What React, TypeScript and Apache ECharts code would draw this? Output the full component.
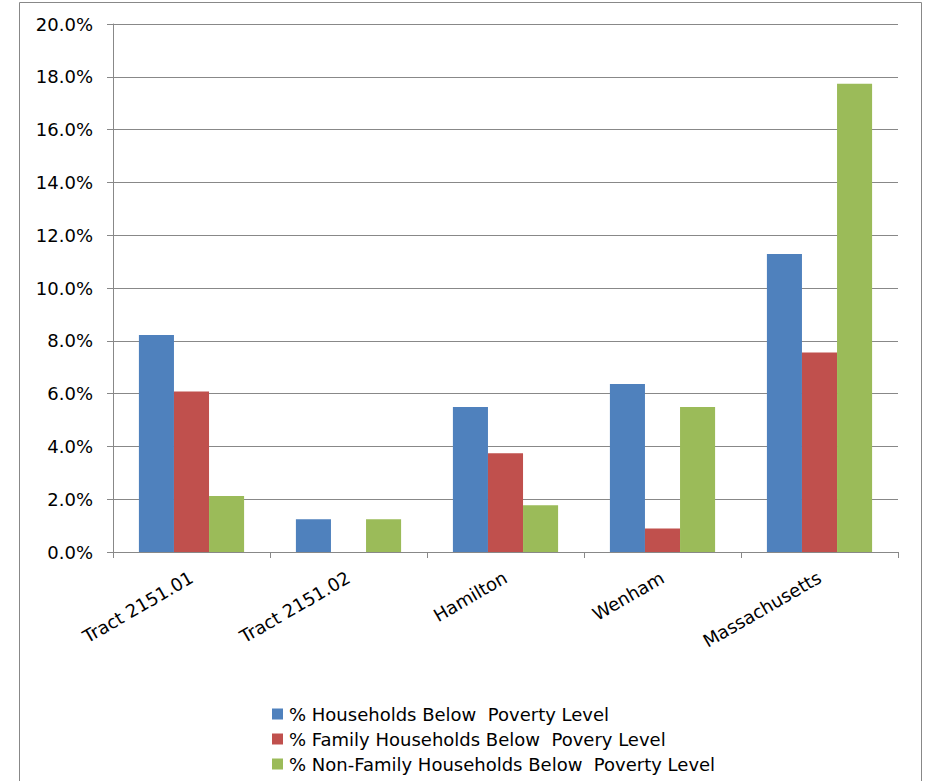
import React, { useEffect, useRef } from "react";
import * as echarts from "echarts";

const categories = ["Tract 2151.01", "Tract 2151.02", "Hamilton", "Wenham", "Massachusetts"];
const householdsBelow = [8.22, 1.24, 5.49, 6.36, 11.29];
const familyBelow = [6.08, 0, 3.74, 0.89, 7.56];
const nonFamilyBelow = [2.12, 1.24, 1.77, 5.49, 17.74];
const seriesNames = [
  "% Households Below  Poverty Level",
  "% Family Households Below  Povery Level",
  "% Non-Family Households Below  Poverty Level",
];
const colors = ["#4F81BD", "#C0504D", "#9BBB59"];

export default function App() {
  const ref = useRef<HTMLDivElement>(null);
  useEffect(() => {
    if (!ref.current) return;
    const chart = echarts.init(ref.current, null, { renderer: "svg" });
    const gray = "#888888";
    const font = "DejaVu Sans";
    const mk = (name: string, data: number[], color: string) => ({
      name,
      type: "bar",
      data,
      barGap: "0%",
      barCategoryGap: "33%",
      itemStyle: { color },
    });
    chart.setOption({
      animation: false,
      backgroundColor: "#ffffff",
      color: colors,
      graphic: [
        {
          type: "rect",
          shape: { x: 19.5, y: 2.5, width: 902, height: 820 },
          style: { fill: "none", stroke: gray, lineWidth: 1 },
          silent: true,
        },
      ],
      grid: { left: 113, right: 28, top: 24, bottom: 229, containLabel: false },
      legend: {
        orient: "vertical",
        left: 272,
        top: 705,
        padding: 0,
        icon: "rect",
        itemWidth: 11,
        itemHeight: 11,
        itemGap: 7,
        textStyle: { fontFamily: font, fontSize: 18, color: "#000", lineHeight: 18, padding: [0, 0, 0, 1] },
        data: seriesNames,
      },
      xAxis: {
        type: "category",
        data: categories,
        axisLine: { lineStyle: { color: gray } },
        axisTick: { show: true, length: 6, lineStyle: { color: gray } },
        axisLabel: {
          rotate: 30,
          margin: 24,
          fontFamily: font,
          fontSize: 18,
          color: "#000",
        },
      },
      yAxis: {
        type: "value",
        min: 0,
        max: 20,
        interval: 2,
        axisLine: { show: true, lineStyle: { color: gray } },
        axisTick: { show: true, length: 6, lineStyle: { color: gray } },
        splitLine: { lineStyle: { color: gray, width: 1 } },
        axisLabel: {
          margin: 20,
          fontFamily: font,
          fontSize: 18,
          color: "#000",
          formatter: (v: number) => v.toFixed(1) + "%",
        },
      },
      series: [
        mk(seriesNames[0], householdsBelow, colors[0]),
        mk(seriesNames[1], familyBelow, colors[1]),
        mk(seriesNames[2], nonFamilyBelow, colors[2]),
      ],
    });
    return () => chart.dispose();
  }, []);
  return (
    <div
      ref={ref}
      style={{ position: "absolute", left: 0, top: 0, width: 926, height: 781 }}
    />
  );
}
